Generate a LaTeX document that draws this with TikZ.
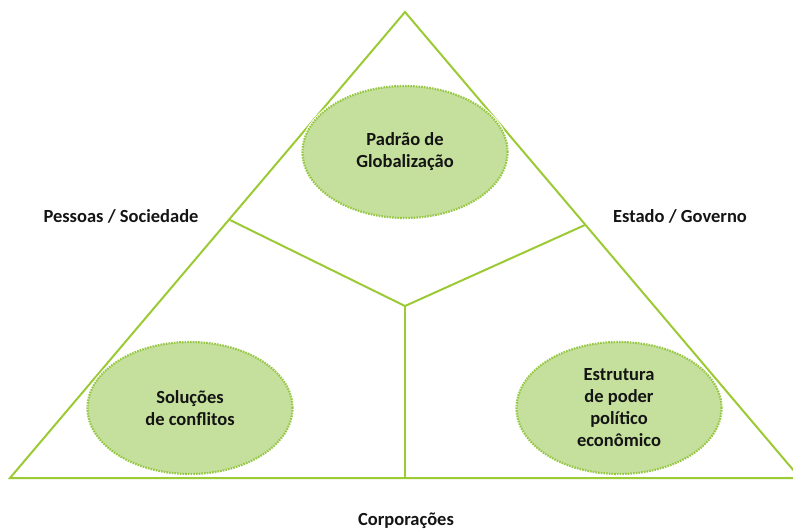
\documentclass[tikz,border=0pt]{standalone}
\usepackage{fontspec}
\setmainfont{Carlito}
\usepackage{tikz}
\usetikzlibrary{shapes.geometric, positioning}

\definecolor{linegreen}{RGB}{155,202,52}
\definecolor{ovalfill}{RGB}{197,224,156}
\definecolor{dotgreen}{RGB}{150,200,70}
\definecolor{textblack}{RGB}{20,20,20}

\begin{document}
\begin{tikzpicture}[
  x=1pt, y=-1pt,
  side/.style={draw=linegreen, line width=2pt, line join=miter},
  oval/.style={ellipse, fill=ovalfill, draw=dotgreen, line width=2.2pt,
    dash pattern=on 1.6pt off 1.1pt,
    preaction={draw=white, line width=4pt, solid},
    minimum width=205pt, minimum height=132pt, inner sep=0pt,
    align=center, text=textblack, font=\bfseries\fontsize{18.5}{22}\selectfont},
  corner/.style={text=textblack, font=\bfseries\fontsize{18.5}{22}\selectfont}
]
\clip (0,0) rectangle (793,531);

\coordinate (top) at (405,12);
\coordinate (bl) at (10,478);
\coordinate (br) at (800,478);
\coordinate (ctr) at (405,306);
\coordinate (lmid) at (230,220);
\coordinate (rmid) at (585,225);
\coordinate (bmid) at (405,478);

% triangle and inner spokes
\draw [side] (top) -- (bl) -- (br) -- cycle;
\draw [side] (ctr) -- (lmid);
\draw [side] (ctr) -- (rmid);
\draw [side] (ctr) -- (bmid);

\node (glob) at (405,152) [oval] {Padrão de\\Globalização};
\node (conf) at (190,408) [oval] {Soluções\\de conflitos};
\node (poder) at (619,408) [oval] {Estrutura\\de poder\\político\\econômico};

\node (soc) at (121,216) [corner] {Pessoas / Sociedade};
\node (gov) at (680,216) [corner] {Estado / Governo};
\node (corp) at (406,521) [corner] {Corporações};

\end{tikzpicture}
\end{document}
